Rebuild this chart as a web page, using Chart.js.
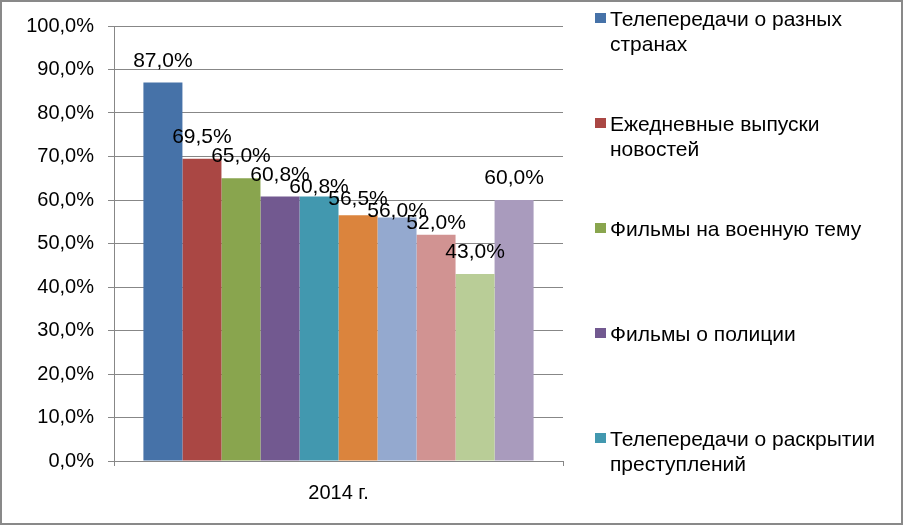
<!DOCTYPE html>
<html lang="ru">
<head>
<meta charset="utf-8">
<title>Предпочтения телепередач, 2014 г.</title>
<script src="https://cdn.jsdelivr.net/npm/chart.js@4.4.1/dist/chart.umd.min.js"></script>
<style>
    body { margin: 0; background: #fff; }
    canvas { display: block; }
</style>
</head>
<body>
<canvas id="chart" width="903" height="526"></canvas>
<script>
// категории и серии (значения в процентах)
const categories = ['2014 г.'];
const seriesNames = [
    'Телепередачи о разных странах',
    'Ежедневные выпуски новостей',
    'Фильмы на военную тему',
    'Фильмы о полиции',
    'Телепередачи о раскрытии преступлений',
    'Спортивные передачи',
    'Развлекательные программы',
    'Документальные фильмы',
    'Ток-шоу',
    'Сериалы'
];
const seriesValues = [87.0, 69.5, 65.0, 60.8, 60.8, 56.5, 56.0, 52.0, 43.0, 60.0];
const seriesColors = [
    '#4672a8', '#aa4744', '#89a54e', '#725990', '#4298af',
    '#db843d', '#94a9cf', '#d19392', '#b9cd97', '#a99bbd'
];
const yTicks = [0, 10, 20, 30, 40, 50, 60, 70, 80, 90, 100];
const legendCount = 5; // в исходнике видна только часть легенды

const FONT = 'Liberation Sans, Arial, sans-serif';
const gridColor = '#878787';

function fmt(v) {
    return v.toFixed(1).replace('.', ',') + '%';
}

// подписи данных над столбцами, с простым сдвигом вниз при наложении
const dataLabels = {
    id: 'dataLabels',
    afterDatasetsDraw(chart) {
        const ctx = chart.ctx;
        ctx.save();
        ctx.font = '21px ' + FONT;
        ctx.fillStyle = '#000';
        ctx.textAlign = 'center';
        ctx.textBaseline = 'alphabetic';
        let prev = null;
        const h = 12;
        chart.data.datasets.forEach((ds, i) => {
            const bar = chart.getDatasetMeta(i).data[0];
            const text = fmt(ds.data[0]);
            const w = ctx.measureText(text).width;
            let base = bar.y - 16;
            const box = { l: bar.x - w / 2, r: bar.x + w / 2 };
            if (prev && box.l < prev.r && base > prev.base - h && base - h < prev.base) {
                base = prev.base + h;
            }
            ctx.fillText(text, bar.x, base);
            prev = { l: box.l, r: box.r, base: base };
        });
        ctx.restore();
    }
};

// легенда справа, как в Excel: записи с переносом строк
const sideLegend = {
    id: 'sideLegend',
    afterDraw(chart) {
        const ctx = chart.ctx;
        ctx.save();
        ctx.font = '21px ' + FONT;
        ctx.textBaseline = 'middle';
        ctx.textAlign = 'left';
        const x0 = 595, tx = 610, maxW = 285;
        for (let i = 0; i < legendCount; i++) {
            const ds = chart.data.datasets[i];
            const y0 = 20 + i * 105;
            ctx.fillStyle = ds.backgroundColor;
            ctx.fillRect(x0, y0 - 7, 11, 10);
            // перенос по словам
            const words = ds.label.split(' ');
            const lines = [];
            let line = '';
            words.forEach(wd => {
                const test = line ? line + ' ' + wd : wd;
                if (ctx.measureText(test).width > maxW && line) {
                    lines.push(line);
                    line = wd;
                } else {
                    line = test;
                }
            });
            lines.push(line);
            ctx.fillStyle = '#000';
            lines.forEach((ln, k) => ctx.fillText(ln, tx, y0 + k * 25));
        }
        // рамка диаграммы
        ctx.strokeStyle = '#898989';
        ctx.lineWidth = 2;
        ctx.strokeRect(1, 1, 901, 523);
        ctx.restore();
    }
};

const datasets = seriesNames.map((name, i) => ({
    label: name,
    data: [seriesValues[i]],
    backgroundColor: seriesColors[i],
    borderWidth: 0,
    categoryPercentage: 0.869,
    barPercentage: 1.0
}));

new Chart(document.getElementById('chart'), {
    type: 'bar',
    data: { labels: categories, datasets: datasets },
    options: {
        responsive: false,
        animation: false,
        layout: { padding: { left: 0, top: 23, right: 340, bottom: 0 } },
        plugins: {
            legend: { display: false },
            tooltip: { enabled: false }
        },
        scales: {
            x: {
                offset: true,
                grid: {
                    offset: true,
                    drawOnChartArea: false,
                    drawTicks: true,
                    tickLength: 5,
                    color: gridColor
                },
                border: { color: gridColor, width: 1 },
                ticks: { color: '#000', font: { family: FONT, size: 20 }, padding: 15 },
                afterFit(scale) { scale.height = 65; }
            },
            y: {
                min: 0,
                max: 100,
                afterBuildTicks(scale) {
                    scale.ticks = yTicks.map(v => ({ value: v }));
                },
                grid: { color: gridColor, tickLength: 6 },
                border: { color: gridColor, width: 1 },
                ticks: {
                    color: '#000',
                    font: { family: FONT, size: 20 },
                    padding: 14,
                    callback: v => fmt(v)
                },
                afterFit(scale) { scale.width = 114; }
            }
        }
    },
    plugins: [dataLabels, sideLegend]
});
</script>
</body>
</html>
